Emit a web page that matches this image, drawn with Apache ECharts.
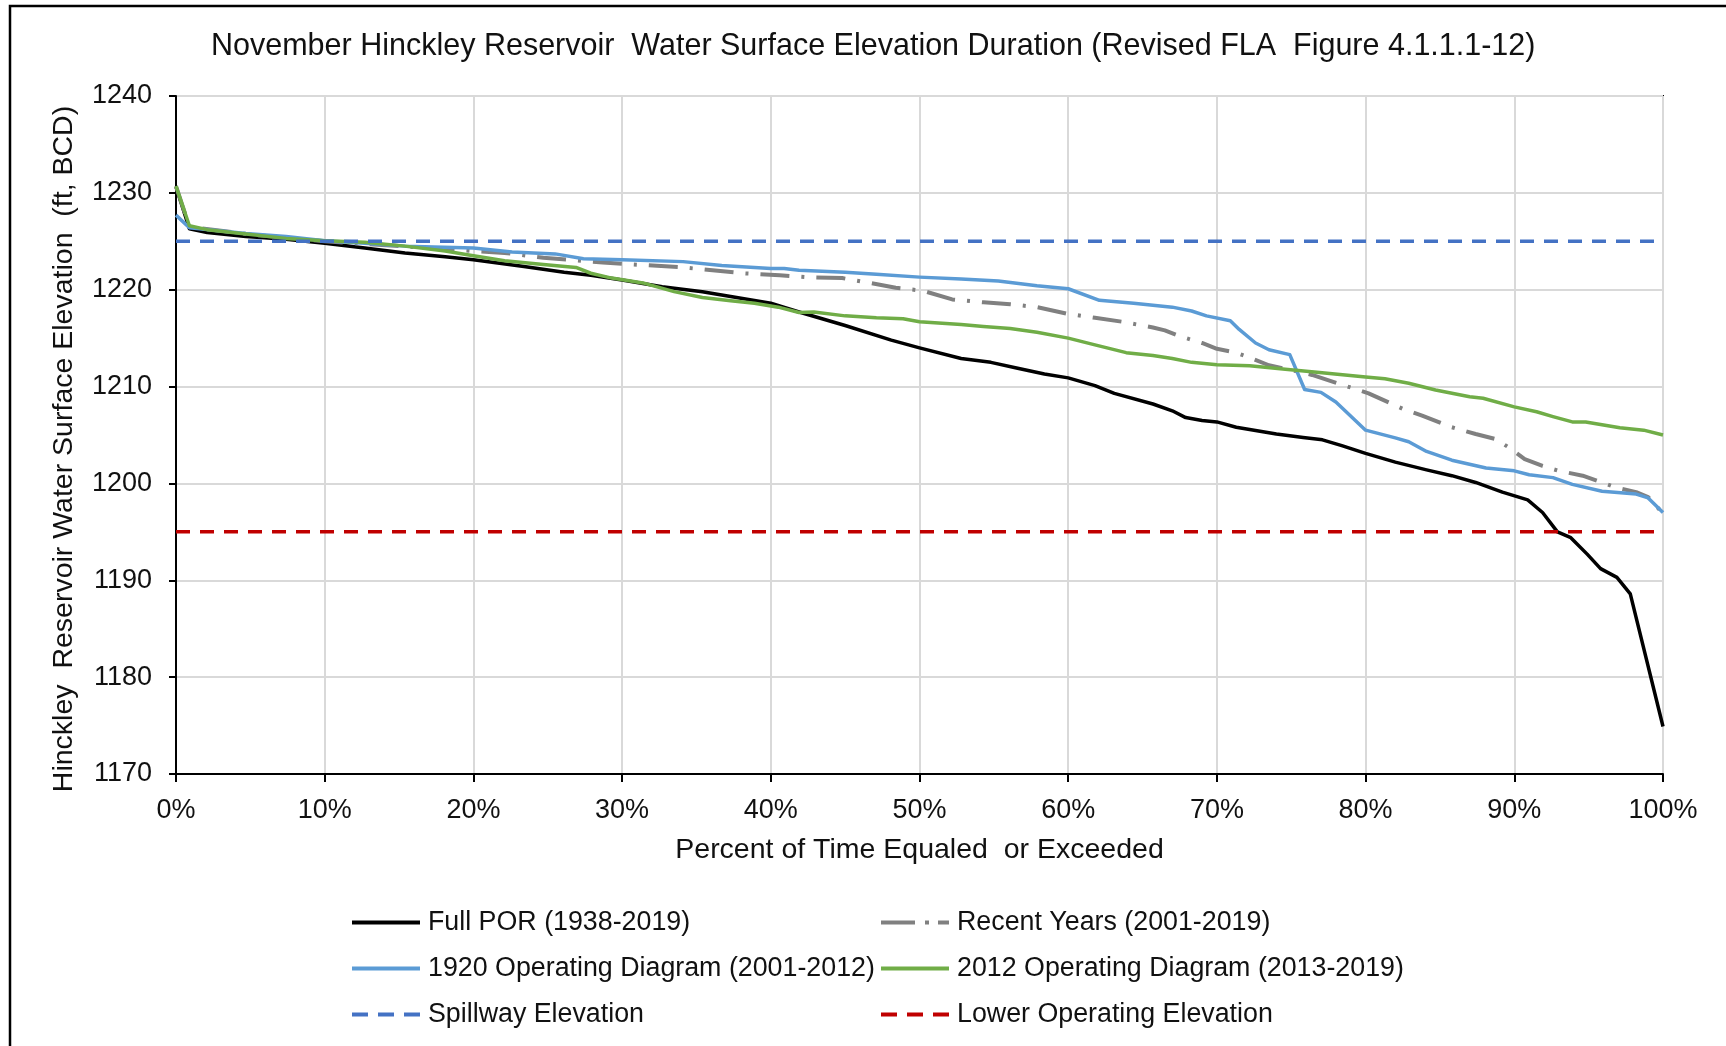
<!DOCTYPE html>
<html>
<head>
<meta charset="utf-8">
<script src="https://cdn.jsdelivr.net/npm/echarts@6/dist/echarts.min.js"></script>
<style>
html,body{margin:0;padding:0;background:#fff;}
#chart{width:1726px;height:1046px;}
</style>
</head>
<body>
<div id="chart"></div>
<script>
// ---- Data (percent of time equaled or exceeded, elevation ft BCD) ----
const porPct  = [0,0.9,2.1,4.7,7.4,10,12.7,15.4,18.1,20,23.4,26.1,27.9,30,32.7,35.4,37.3,40,41.9,45,48.1,50,52.8,54.8,56.6,58.4,60,61.8,63.1,65.7,67,67.9,69,70,71.3,74,75.8,77.1,78.4,80,82,84.1,85.8,87.4,89.2,90.9,91.9,92.9,93.8,94.9,95.8,96.9,97.8,100];
const porElev = [1230.6,1226.3,1225.9,1225.5,1225.2,1224.8,1224.3,1223.8,1223.4,1223.1,1222.4,1221.8,1221.5,1221.0,1220.3,1219.8,1219.3,1218.6,1217.7,1216.3,1214.8,1214.0,1212.9,1212.5,1211.9,1211.3,1210.9,1210.1,1209.3,1208.2,1207.5,1206.8,1206.5,1206.35,1205.8,1205.1,1204.75,1204.5,1203.9,1203.1,1202.2,1201.4,1200.8,1200.1,1199.1,1198.3,1197.0,1195.0,1194.4,1192.7,1191.2,1190.3,1188.6,1174.9];

const recentPct  = [0,0.9,5,10,15,20,22.1,24.7,28.7,34.1,38.1,40.6,42.4,44.8,46.3,48.4,50.2,52.2,54.3,56.1,57.9,60,61.8,63.6,65.7,66.5,67.5,69,70,71.3,72.2,73.5,75.3,76.4,78.4,80.2,82.5,83.8,85.8,87.4,88.7,89.6,90.7,91.9,93,94.6,96.8,98.2,99,100];
const recentElev = [1230.7,1226.5,1225.7,1225.0,1224.5,1224.0,1223.8,1223.3,1222.8,1222.3,1221.7,1221.5,1221.3,1221.2,1220.8,1220.2,1219.9,1219.0,1218.7,1218.5,1218.2,1217.5,1217.1,1216.7,1216.1,1215.8,1215.2,1214.5,1213.9,1213.5,1213.0,1212.2,1211.6,1211.2,1210.2,1209.3,1207.7,1207.0,1205.8,1205.1,1204.6,1203.75,1202.5,1201.8,1201.3,1200.8,1199.6,1199.1,1198.6,1196.9];

const od1920Pct  = [0,0.9,4.7,7.4,10,12.7,15.4,20,22.6,25.5,27.4,30,34.1,36.7,40,40.9,41.9,45,47.1,50,52.8,55.3,57.9,60,62.1,64.4,67,68.3,69.3,70.9,71.5,72.6,73.5,74.9,75.9,77,78,80,82,82.9,84.1,85.8,88.1,90,91,92.6,93.9,95.9,98.2,99,100];
const od1920Elev = [1227.7,1226.4,1225.8,1225.5,1225.05,1224.8,1224.5,1224.3,1223.9,1223.7,1223.2,1223.1,1222.9,1222.5,1222.2,1222.2,1222.0,1221.8,1221.6,1221.3,1221.1,1220.9,1220.4,1220.1,1218.9,1218.6,1218.2,1217.8,1217.3,1216.8,1215.9,1214.5,1213.8,1213.3,1209.7,1209.4,1208.4,1205.5,1204.7,1204.3,1203.3,1202.4,1201.6,1201.3,1200.9,1200.6,1199.9,1199.2,1198.9,1198.5,1197.0];

const od2012Pct  = [0,0.9,2.1,4.7,7.4,10,12.7,15.4,18.1,20,22.1,24.7,26.9,27.9,29.3,31.4,33.5,35.4,37.3,38.9,40.5,41.9,42.9,45,47.1,48.9,50,52.8,54.3,56.1,57.9,60,61.8,63.9,65.7,67,68.3,70,72.2,74.6,76.9,80,81.3,82.9,84.7,87,87.9,90,91.5,92.6,93.9,94.8,97.1,98.7,100];
const od2012Elev = [1230.7,1226.6,1226.2,1225.75,1225.3,1225.05,1224.9,1224.5,1224.0,1223.5,1223.0,1222.6,1222.3,1221.7,1221.2,1220.7,1219.8,1219.2,1218.85,1218.6,1218.2,1217.65,1217.7,1217.3,1217.1,1217.0,1216.7,1216.4,1216.2,1216.0,1215.6,1215.0,1214.3,1213.5,1213.2,1212.9,1212.5,1212.25,1212.15,1211.8,1211.45,1211.0,1210.8,1210.35,1209.65,1208.95,1208.8,1207.9,1207.4,1206.9,1206.35,1206.35,1205.75,1205.5,1205.0];

const refPct = [0, 100];
const spillwayElev = [1225, 1225];
const lowerOpElev  = [1195, 1195];

const xTicks = [0,10,20,30,40,50,60,70,80,90,100];
const yTicks = [1170,1180,1190,1200,1210,1220,1230,1240];

const seriesNames = [
  'Full POR (1938-2019)',
  'Recent Years (2001-2019)',
  '1920 Operating Diagram (2001-2012)',
  '2012 Operating Diagram (2013-2019)',
  'Spillway Elevation',
  'Lower Operating Elevation'
];

function pairs(xs, ys){ return xs.map((x,i)=>[x, ys[i]]); }

const FONT = '"Liberation Sans", Arial, sans-serif';
const TXT = '#111';

const ICON_SOLID   = 'path://M0,0H68V4H0Z';
const ICON_DASH    = 'path://M0,0H16V4H0Z M26,0H42V4H26Z M52,0H68V4H52Z';
const ICON_DASHDOT = 'path://M0,0H34V4H0Z M44,0H48V4H44Z M57,0H68V4H57Z';

const chart = echarts.init(document.getElementById('chart'), null, {renderer:'canvas'});

function lineSeries(name, xs, ys, color, width, type, z){
  return {
    name: name, type: 'line', data: pairs(xs, ys),
    showSymbol: false, symbol: 'none', smooth: false, z: z,
    lineStyle: {color: color, width: width, type: type, cap: 'butt', join: 'round'},
    itemStyle: {color: color},
    emphasis: {disabled: true},
    animation: false
  };
}

function legendItem(name, icon, left, top){
  return {
    data: [name], icon: icon, left: left, top: top, padding: 0,
    itemWidth: 68, itemHeight: 4, selectedMode: false,
    textStyle: {fontFamily: FONT, fontSize: 26.8, color: TXT, padding: [0,0,0,3]}
  };
}

chart.setOption({
  backgroundColor: '#fff',
  animation: false,
  title: {
    text: 'November Hinckley Reservoir  Water Surface Elevation Duration (Revised FLA  Figure 4.1.1.1-12)',
    left: 211,
    top: 31,
    padding: 0,
    textStyle: {fontFamily: FONT, fontSize: 30.5, fontWeight: 'normal', color: TXT}
  },
  graphic: [{
    type: 'rect', silent: true, z: -10,
    shape: {x: 10, y: 6, width: 1760, height: 1100},
    style: {fill: 'none', stroke: '#000', lineWidth: 2.5}
  }],
  legend: [
    legendItem(seriesNames[0], ICON_SOLID,   352, 909),
    legendItem(seriesNames[1], ICON_DASHDOT, 881, 909),
    legendItem(seriesNames[2], ICON_SOLID,   352, 955),
    legendItem(seriesNames[3], ICON_SOLID,   881, 955),
    legendItem(seriesNames[4], ICON_DASH,    352, 1001),
    legendItem(seriesNames[5], ICON_DASH,    881, 1001)
  ],
  grid: {
    left: 176, right: 63, top: 96, bottom: 272,
    show: true, borderColor: '#000', borderWidth: 2,
    containLabel: false
  },
  xAxis: {
    type: 'value', min: 0, max: 100, interval: 10,
    name: 'Percent of Time Equaled  or Exceeded',
    nameLocation: 'middle', nameGap: 62,
    nameTextStyle: {fontFamily: FONT, fontSize: 28.5, color: TXT},
    axisLine: {show: true, lineStyle: {color: '#000', width: 2}},
    axisTick: {show: true, length: 8, lineStyle: {color: '#000', width: 2}},
    axisLabel: {fontFamily: FONT, fontSize: 27, color: TXT, margin: 23,
      formatter: function(v){ return xTicks.indexOf(v) >= 0 ? v + '%' : ''; }},
    splitLine: {show: true, lineStyle: {color: '#d9d9d9', width: 2}}
  },
  yAxis: {
    type: 'value', min: 1170, max: 1240, interval: 10,
    name: 'Hinckley  Reservoir Water Surface Elevation  (ft, BCD)',
    nameLocation: 'middle', nameGap: 97, nameRotate: 90,
    nameTextStyle: {fontFamily: FONT, fontSize: 28.5, color: TXT, padding: [0,28,0,0]},
    axisLine: {show: true, lineStyle: {color: '#000', width: 2}},
    axisTick: {show: true, length: 7, lineStyle: {color: '#000', width: 2}},
    axisLabel: {fontFamily: FONT, fontSize: 27, color: TXT, margin: 24,
      formatter: function(v){ return yTicks.indexOf(v) >= 0 ? String(v) : ''; }},
    splitLine: {show: true, lineStyle: {color: '#d9d9d9', width: 2}}
  },
  series: [
    lineSeries(seriesNames[0], porPct, porElev, '#000000', 3.5, 'solid', 2),
    lineSeries(seriesNames[1], recentPct, recentElev, '#808080', 4, [29,12,3,12], 3),
    lineSeries(seriesNames[2], od1920Pct, od1920Elev, '#5B9BD5', 3.5, 'solid', 4),
    lineSeries(seriesNames[3], od2012Pct, od2012Elev, '#70AD47', 3.5, 'solid', 5),
    lineSeries(seriesNames[4], refPct, spillwayElev, '#4472C4', 3.5, [14,10], 6),
    lineSeries(seriesNames[5], refPct, lowerOpElev, '#C00000', 3.5, [14,10], 6)
  ]
});
</script>
</body>
</html>
